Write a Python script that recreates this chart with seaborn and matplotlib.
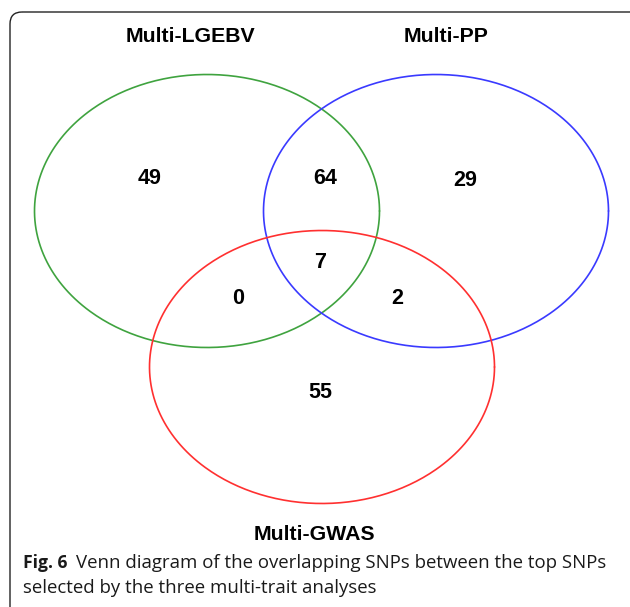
import numpy as np
import pandas as pd
import matplotlib
matplotlib.use("Agg")
import matplotlib.pyplot as plt
from matplotlib.patches import FancyBboxPatch
import seaborn as sns

# ---- data ----
set_names = ["Multi-LGEBV", "Multi-PP", "Multi-GWAS"]
set_colors = ["#3fa33f", "#3a3aff", "#ff3030"]
region_labels = ["LGEBV only", "PP only", "GWAS only", "LGEBV&PP", "LGEBV&GWAS", "PP&GWAS", "all"]
region_counts = [49, 29, 55, 64, 0, 2, 7]
caption_bold = "Fig. 6"
caption_text = "Venn diagram of the overlapping SNPs between the top SNPs\nselected by the three multi-trait analyses"

# ---- layout (pixel coordinates) ----
centers = [(207, 211), (436, 211), (322, 367)]
rx, ry = 172.5, 136.5
region_pos = [(150, 179), (465, 181), (320, 393), (325, 179), (238, 298), (397, 298), (320, 262)]
name_pos = [(190, 37), (446, 37), (314, 535)]

sns.set_theme(style="white")
plt.rcParams["font.family"] = ["Liberation Sans", "DejaVu Sans"]

fig = plt.figure(figsize=(6.30, 6.07), dpi=100)
ax = fig.add_axes([0, 0, 1, 1])

# outer rounded frame
frame = FancyBboxPatch((10, 12), 640, 640, boxstyle="round,pad=0,rounding_size=12",
                       fill=False, edgecolor="#222222", linewidth=1.0)
ax.add_patch(frame)

t = np.linspace(0, 2 * np.pi, 400)
rows = []
for name, (cx, cy) in zip(set_names, centers):
    for tt in t:
        rows.append({"set": name, "x": cx + rx * np.cos(tt), "y": cy + ry * np.sin(tt)})
df = pd.DataFrame(rows)
sns.lineplot(data=df, x="x", y="y", hue="set", palette=dict(zip(set_names, set_colors)),
             sort=False, units="set", estimator=None, linewidth=1.2, legend=False, ax=ax)
ax.set_xlim(0, 630)
ax.set_ylim(607, 0)
ax.axis("off")

for name, (x, y) in zip(set_names, name_pos):
    ax.text(x, y, name, ha="center", va="center", fontsize=15.3, fontweight="bold", color="black")

for cnt, (x, y) in zip(region_counts, region_pos):
    ax.text(x, y, str(cnt), ha="center", va="center", fontsize=15.5, fontweight="bold", color="black")

lines = caption_text.split("\n")
cap_font = ["Open Sans", "DejaVu Sans"]
ax.text(23, 563, caption_bold, ha="left", va="center", fontsize=12.6, fontweight="bold",
        family=cap_font, color="#1a1a1a")
ax.text(76, 563, lines[0], ha="left", va="center", fontsize=13.4,
        family=cap_font, color="#1a1a1a")
ax.text(23, 588, lines[1], ha="left", va="center", fontsize=13.4,
        family=cap_font, color="#1a1a1a")

fig.savefig("out.png", dpi=100)
